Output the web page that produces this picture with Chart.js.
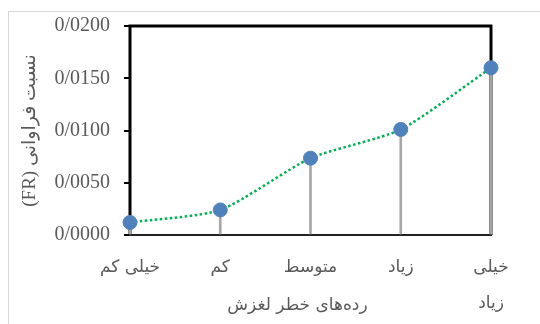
<!DOCTYPE html>
<html>
<head>
<meta charset="utf-8">
<script src="https://cdn.jsdelivr.net/npm/chart.js@4"></script>
<style>
  html, body { margin: 0; padding: 0; background: #fff; }
  #wrap { position: relative; width: 540px; height: 324px; overflow: hidden; }
  #frame { position: absolute; left: 8px; top: 11px; width: 600px; height: 400px;
           border-left: 1px solid #d9d9d9; border-top: 1px solid #d9d9d9; }
  canvas { position: absolute; left: 0; top: 0; }
</style>
</head>
<body>
<div id="wrap">
  <div id="frame"></div>
  <canvas id="chart" width="540" height="324"></canvas>
</div>
<script>
// landslide risk classes (x axis) and frequency ratio values
const riskClasses = ["خیلی کم", "کم", "متوسط", "زیاد", ["خیلی", "زیاد"]];
const frValues = [0.0012, 0.0024, 0.00735, 0.0101, 0.0160];

const Y_MIN = 0, Y_MAX = 0.02, Y_STEP = 0.005;

const yTitle = "\u202Bنسبت فراوانی (FR)\u202C";
const xTitle = "رده‌های خطر لغزش";

const GREY_TEXT = "#595959";

// thick frame round the plot area (drawn under the markers)
const frameBox = {
  id: "frameBox",
  beforeDatasetsDraw(chart) {
    const { ctx, chartArea: a } = chart;
    ctx.save();
    ctx.strokeStyle = "#000";
    ctx.lineWidth = 3;
    ctx.beginPath();
    ctx.moveTo(a.left, a.bottom);
    ctx.lineTo(a.left, a.top);
    ctx.lineTo(a.right, a.top);
    ctx.lineTo(a.right, a.bottom);
    ctx.stroke();
    ctx.lineWidth = 2;
    ctx.strokeStyle = "#222";
    ctx.beginPath();
    ctx.moveTo(a.left - 1, a.bottom);
    ctx.lineTo(a.right + 1, a.bottom);
    ctx.stroke();
    ctx.restore();
  }
};

// x axis title sits beside the wrapped second line of the last label
const xTitlePlugin = {
  id: "xTitlePlugin",
  afterDraw(chart) {
    const { ctx, chartArea: a } = chart;
    ctx.save();
    ctx.font = "17px 'DejaVu Sans'";
    ctx.fillStyle = GREY_TEXT;
    ctx.textAlign = "center";
    ctx.textBaseline = "middle";
    ctx.fillText(xTitle, (a.left + a.right) / 2 - 13, a.bottom + 71);
    ctx.restore();
  }
};

new Chart(document.getElementById("chart"), {
  type: "line",
  data: {
    labels: riskClasses,
    datasets: [
      {
        type: "line",
        data: frValues,
        borderColor: "#00B050",
        borderWidth: 2.5,
        borderDash: [2.5, 2.5],
        tension: 0.22,
        pointRadius: 7,
        pointBackgroundColor: "#4F81BD",
        pointBorderColor: "#4F81BD",
        pointBorderWidth: 1,
        clip: false,
        order: 0
      },
      {
        // drop lines from each point to the axis
        type: "bar",
        data: frValues,
        backgroundColor: "#A6A6A6",
        barThickness: 2,
        borderWidth: 0,
        clip: false,
        order: 1
      }
    ]
  },
  options: {
    responsive: false,
    animation: false,
    layout: { padding: { left: 0, top: 22, right: 49, bottom: 0 } },
    plugins: { legend: { display: false }, tooltip: { enabled: false } },
    scales: {
      x: {
        type: "category",
        offset: false,
        grid: { display: false, drawTicks: false },
        border: { display: false },
        ticks: {
          color: GREY_TEXT,
          padding: 15,
          maxRotation: 0,
          autoSkip: false,
          font: { family: "'DejaVu Sans'", size: 17, lineHeight: 2.1 }
        },
        afterFit(s) { s.height = 89; }
      },
      y: {
        min: Y_MIN,
        max: Y_MAX,
        grid: {
          drawOnChartArea: false,
          drawTicks: true,
          tickLength: 6,
          color: "#000",
          lineWidth: 2
        },
        border: { display: false },
        ticks: {
          stepSize: Y_STEP,
          color: GREY_TEXT,
          padding: 14,
          font: { family: "'Liberation Serif', 'DejaVu Sans'", size: 20 },
          callback: v => Number(v).toFixed(4).replace(".", "/")
        },
        title: {
          display: true,
          text: yTitle,
          color: GREY_TEXT,
          padding: { top: 19, bottom: 0 },
          font: { family: "'Liberation Serif', 'DejaVu Sans'", size: 19, lineHeight: 1.2 }
        },
        afterFit(s) { s.width = 130; }
      }
    }
  },
  plugins: [frameBox, xTitlePlugin]
});
</script>
</body>
</html>
